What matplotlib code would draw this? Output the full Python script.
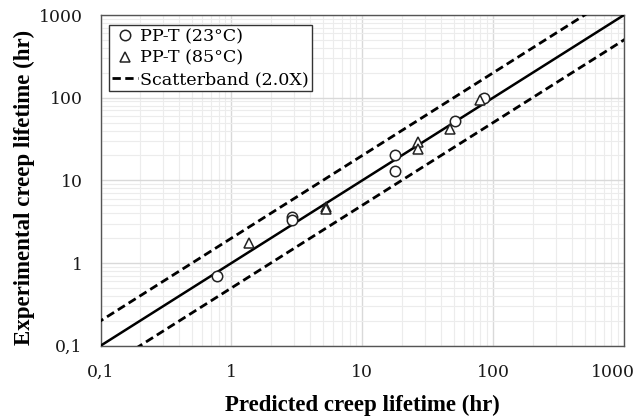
import numpy as np
import matplotlib.pyplot as plt
from matplotlib.ticker import FixedLocator, FuncFormatter, LogLocator, NullFormatter

# (hours)
pred_23 = [0.77, 2.9, 2.9, 17.7, 17.7, 51, 85]
exp_23 = [0.70, 3.6, 3.3, 20, 13, 52, 100]
pred_85 = [1.37, 5.3, 5.3, 26.7, 26.7, 47, 80]
exp_85 = [1.75, 4.7, 4.5, 29, 24, 42, 95]
band = 2.0
ticks = [0.1, 1, 10, 100, 1000]

SERIF = 'DejaVu Serif'
BOLD = 'Liberation Serif'


def lbl(v):
    return ('%g' % v).replace('.', ',')


fig = plt.figure(figsize=(6.37, 4.16), dpi=100)
ax = fig.add_axes([0.158, 0.169, 0.8216, 0.7949])

xx = np.array([0.01, 10000])
ax.plot(xx, xx, color='black', lw=1.8, zorder=3)
ax.plot(xx, xx * band, color='black', lw=2.0, ls=(0, (3, 1.6)), zorder=3,
        label='Scatterband (2.0X)')
ax.plot(xx, xx / band, color='black', lw=2.0, ls=(0, (3, 1.6)), zorder=3)

ax.plot(pred_23, exp_23, 'o', ms=7.5, mfc='white', mec='#222222', mew=1.1,
        zorder=4, label='PP-T (23°C)')
ax.plot(pred_85, exp_85, '^', ms=7.5, mfc='white', mec='#222222', mew=1.1,
        zorder=4, label='PP-T (85°C)')

ax.set_xscale('log'); ax.set_yscale('log')
ax.set_xlim(0.1, 1000); ax.set_ylim(0.1, 1000)

for axis in (ax.xaxis, ax.yaxis):
    axis.set_major_locator(FixedLocator(ticks))
    axis.set_minor_locator(LogLocator(base=10, subs=np.arange(2, 10)))
    axis.set_minor_formatter(NullFormatter())
ax.yaxis.set_major_formatter(FuncFormatter(lambda v, p: lbl(v)))
# last x label sits pulled in from the right edge, like in the original
ax.xaxis.set_major_formatter(FuncFormatter(lambda v, p: '' if v >= ticks[-1] else lbl(v)))

ax.grid(which='major', color='#d9d9d9', lw=1.0, zorder=0)
ax.grid(which='minor', color='#ececec', lw=0.8, zorder=0)
ax.set_axisbelow(True)
ax.tick_params(which='both', length=0, labelsize=12.4, pad=13, colors='#1a1a1a')
for lab in ax.get_xticklabels() + ax.get_yticklabels():
    lab.set_family(SERIF)
ax.annotate(lbl(ticks[-1]), xy=(ticks[-1], 0), xycoords=('data', 'axes fraction'),
            xytext=(8, -13), textcoords='offset points', ha='right', va='top',
            fontsize=12.4, family=SERIF, color='#1a1a1a')
for s in ax.spines.values():
    s.set_color('#555555'); s.set_linewidth(1.0)

ax.set_xlabel('Predicted creep lifetime (hr)', fontsize=16.5, fontweight='bold',
              family=BOLD, va='center')
ax.set_ylabel('Experimental creep lifetime (hr)', fontsize=16.5, fontweight='bold',
              family=BOLD, va='center')
ax.xaxis.set_label_coords(0.5, -0.18)
ax.yaxis.set_label_coords(-0.1466, 0.48)

h, l = ax.get_legend_handles_labels()
leg = ax.legend([h[1], h[2], h[0]], [l[1], l[2], l[0]], loc='upper left',
                bbox_to_anchor=(0.009, 0.98), prop={'family': SERIF, 'size': 12.6},
                fancybox=False, framealpha=1, edgecolor='#333333', borderpad=0.18,
                labelspacing=0.25, handlelength=1.5, handletextpad=0.1, borderaxespad=0.2)
leg.get_frame().set_linewidth(1.0)

fig.savefig('out.png', dpi=100)
